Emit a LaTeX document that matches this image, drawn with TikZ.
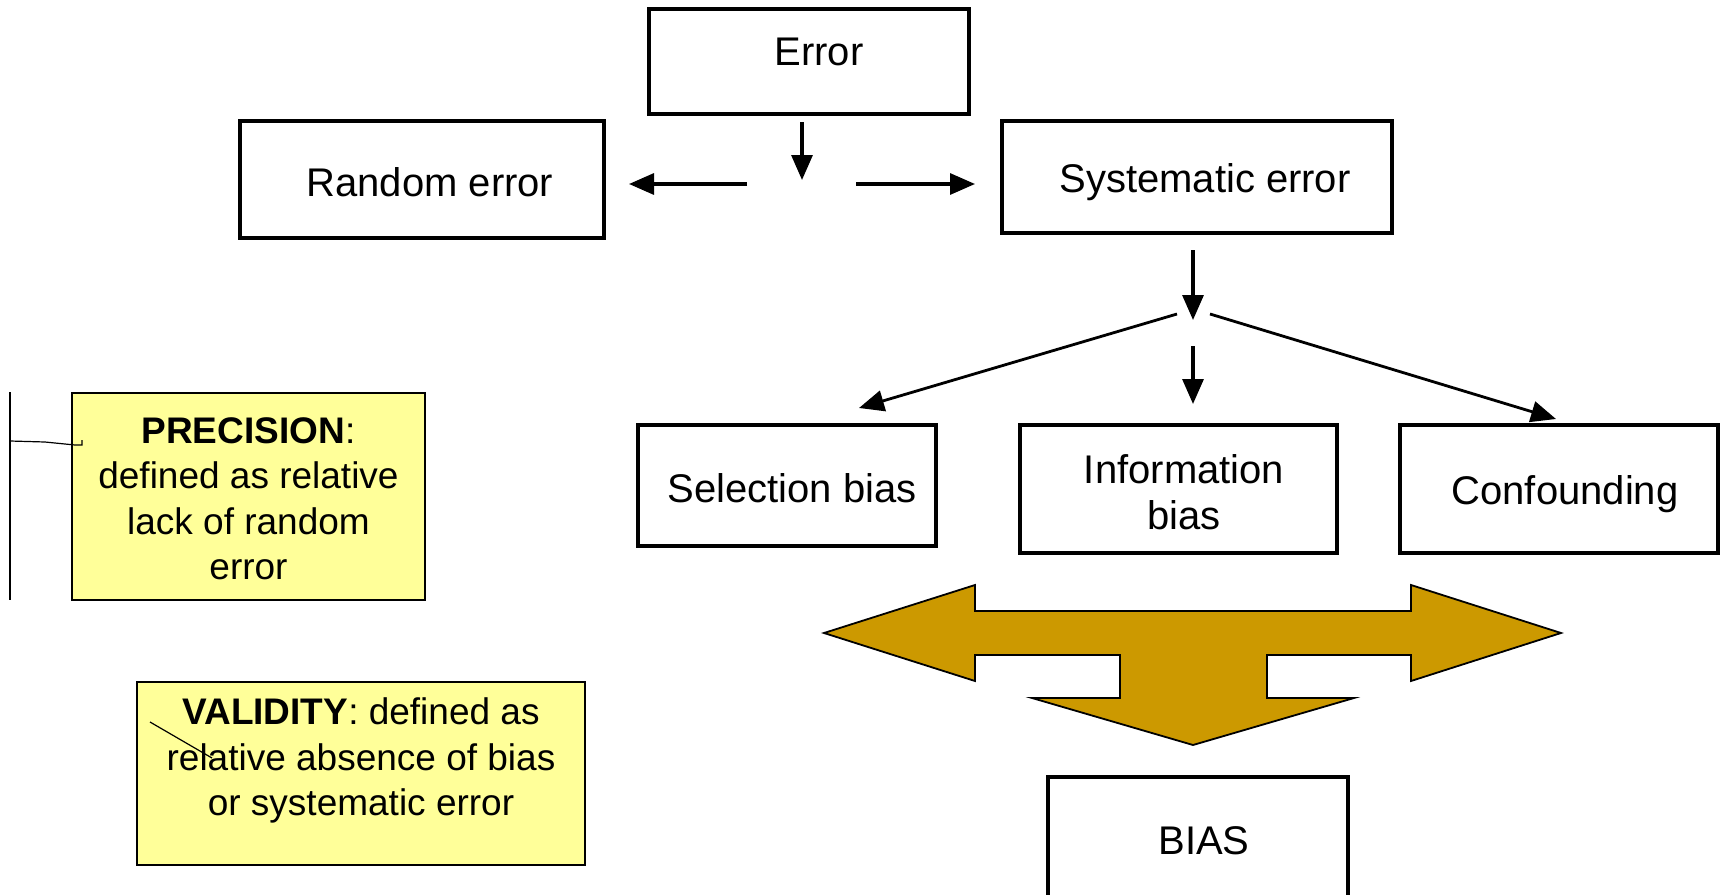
\documentclass[tikz,border=0pt]{standalone}
\usepackage{fontspec}
\setmainfont{Liberation Sans}
\usetikzlibrary{arrows.meta}
\definecolor{notefill}{RGB}{255,255,153}
\definecolor{gold}{RGB}{204,153,0}
\begin{document}
\begin{tikzpicture}[x=1pt,y=-1pt,
  mainbox/.style={draw=black, line width=3.5pt, fill=white, inner sep=0pt},
  mtext/.style={font=\fontsize{40}{46}\selectfont, align=center},
  notebox/.style={draw=black, line width=2pt, fill=notefill, inner sep=0pt},
  ntext/.style={font=\fontsize{37}{45.5}\selectfont, align=center},
  arr/.style={line width=3.2pt, -{Triangle[length=25pt,width=21pt]}},
  darr/.style={line width=2.8pt, -{Triangle[length=25pt,width=21pt]}},
  scribble/.style={line width=1.2pt, black},
]
\useasboundingbox (0,0) rectangle (1721,894);
\clip (0,0) rectangle (1721,894);

% main boxes
\node[mainbox, minimum width=320, minimum height=105] (err) at (809,61.5) {};
\node[mtext] (errt) at (819,52) {Error};
\node[mainbox, minimum width=364, minimum height=117] (rand) at (422,179.5) {};
\node[mtext] (randt) at (430,182) {Random error};
\node[mainbox, minimum width=390, minimum height=112] (sys) at (1197,177) {};
\node[mtext] (syst) at (1205,182) {Systematic error};
\node[mainbox, minimum width=298, minimum height=121] (sel) at (787,485.5) {};
\node[mtext] (selt) at (792,488) {Selection bias};
\node[mainbox, minimum width=317, minimum height=128] (inf) at (1178.5,489) {};
\node[mtext] (inft) at (1184,492) {Information\\bias};
\node[mainbox, minimum width=318, minimum height=128] (conf) at (1559,489) {};
\node[mtext] (conft) at (1565,494) {Confounding};
\node[mainbox, minimum width=300, minimum height=160] (bias) at (1198,857) {};
\node[mtext] (biast) at (1204,841) {BIAS};

% notes
\node[notebox, minimum width=353, minimum height=207] (prec) at (248.5,496.5) {};
\node[ntext] (prect) at (248.5,499) {\textbf{PRECISION}:\\defined as relative\\lack of random\\error};
\node[notebox, minimum width=448, minimum height=183] (val) at (361,773.5) {};
\node[ntext] (valt) at (361,760.5) {\textbf{VALIDITY}: defined as\\relative absence of bias\\or systematic error};

% arrows from Error
\coordinate (e1) at (802,122);
\coordinate (e2) at (802,180);
\coordinate (l1) at (747,184);
\coordinate (l2) at (629,184);
\coordinate (r1) at (856,184);
\coordinate (r2) at (975,184);
\draw[arr] (e1) -- (e2);
\draw[arr] (l1) -- (l2);
\draw[arr] (r1) -- (r2);

% arrows from Systematic error
\coordinate (s1) at (1193,250);
\coordinate (s2) at (1193,320);
\coordinate (m1) at (1193,346);
\coordinate (m2) at (1193,404);
\coordinate (dl1) at (1177,314);
\coordinate (dl2) at (859,408);
\coordinate (dr1) at (1210,314);
\coordinate (dr2) at (1556,419);
\draw[arr] (s1) -- (s2);
\draw[arr] (m1) -- (m2);
\draw[darr] (dl1) -- (dl2);
\draw[darr] (dr1) -- (dr2);

% big gold arrow
\draw[fill=gold, line width=1.8pt, line join=miter]
  (824,633) -- (975,585) -- (975,611) -- (1411,611) -- (1411,585)
  -- (1561,633) -- (1411,681) -- (1411,655) -- (1267,655) -- (1267,698)
  -- (1354,698) -- (1193,745) -- (1032,698) -- (1120,698) -- (1120,655)
  -- (975,655) -- (975,681) -- cycle;

% hand scribbles
\draw[scribble, line width=1.5pt] (10,392) -- (10,600);
\draw[scribble] (10,441) -- (45,442) -- (75,445) -- (82,445) -- (82,440);
\draw[scribble] (150,722) -- (212,758);
\end{tikzpicture}
\end{document}
